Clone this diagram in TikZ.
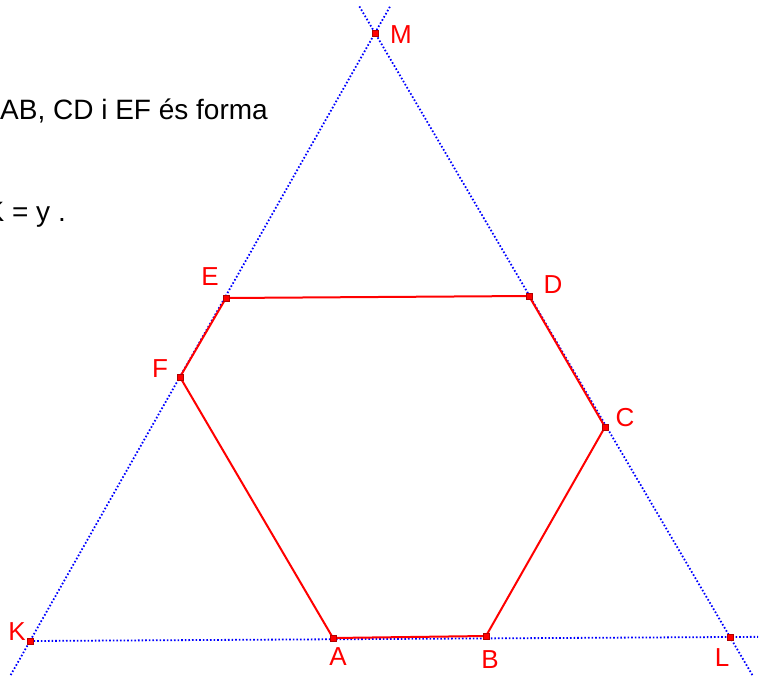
\documentclass[tikz,border=0pt]{standalone}
\usepackage{fontspec}
\setmainfont{Liberation Sans}
\usetikzlibrary{calc}
\tikzset{
    ptmark/.style={
        fill=red,
        draw=red!70!black,
        minimum size=6pt,
        inner sep=0pt
    },
    lbl/.style={
        text=red,
        font=\fontsize{26}{28}\selectfont,
        inner sep=0pt
    },
    auxline/.style={
        blue,
        line width=1.8pt,
        dash pattern=on 1.6pt off 2pt
    },
    sideline/.style={
        red,
        line width=2pt
    }
}

\begin{document}
\begin{tikzpicture}
[
    x=1pt,
    y=-1pt,
]
\useasboundingbox (0,0) rectangle (771,675);
\coordinate (M) at (375,33);
\coordinate (K) at (30,641);
\coordinate (L) at (730,637);
\coordinate (A) at (333,638);
\coordinate (B) at (486,636);
\coordinate (C) at (605,427);
\coordinate (D) at (529,296);
\coordinate (E) at (226,298);
\coordinate (F) at (180,377);
% ends of the lines
\coordinate (km1) at ($(K)!-0.056!(M)$);
\coordinate (km2) at ($(M)!-0.046!(K)$);
\coordinate (lm1) at ($(L)!-0.063!(M)$);
\coordinate (lm2) at ($(M)!-0.046!(L)$);
\coordinate (kl2) at ($(K)!1.04!(L)$);
\draw[auxline] (km1) -- (km2);
\draw[auxline] (lm1) -- (lm2);
\draw[auxline] (K) -- (kl2);
\draw[sideline] (A) -- (B) -- (C) -- (D) -- (E) -- (F) -- cycle;
\foreach \p in {M,K,L,A,B,C,D,E,F}
    \node[ptmark] at (\p) {};
\node[lbl] (lM) at (401,35) {M};
\node[lbl] (lK) at (17,632) {K};
\node[lbl] (lL) at (722,658) {L};
\node[lbl] (lA) at (338,657) {A};
\node[lbl] (lB) at (490,660) {B};
\node[lbl] (lC) at (625,418) {C};
\node[lbl] (lD) at (553,285) {D};
\node[lbl] (lE) at (210,277) {E};
\node[lbl] (lF) at (160,369) {F};
% text at the left, cut by the edge
\node[anchor=base east,inner sep=0pt,font=\fontsize{28}{32}\selectfont] (txt1) at (268,119) {AB, CD i EF és forma};
\node[anchor=base east,inner sep=0pt,font=\fontsize{28}{32}\selectfont] (txt2) at (66,221) {K = y .};
\end{tikzpicture}
\end{document}
